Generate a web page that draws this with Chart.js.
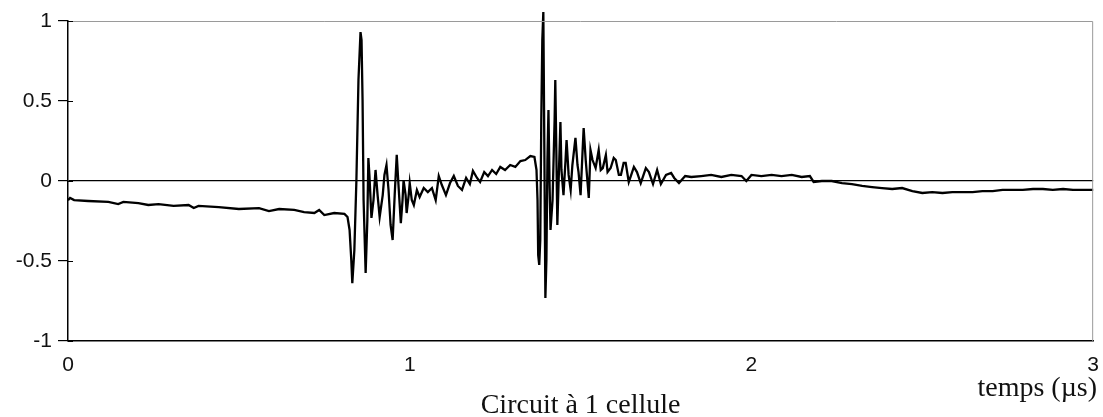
<!DOCTYPE html>
<html>
<head>
<meta charset="utf-8">
<script src="https://cdn.jsdelivr.net/npm/chart.js@4"></script>
<style>
  html, body { margin: 0; padding: 0; background: #fff; }
  #wrap { width: 1103px; height: 417px; position: relative; }
</style>
</head>
<body>
<div id="wrap"><canvas id="signalChart"></canvas></div>
<script>
// temps en µs
const temps = [
  0, 0.006, 0.018, 0.059, 0.118, 0.147, 0.162, 0.206, 0.235, 0.265,
  0.309, 0.353, 0.368, 0.382, 0.441, 0.5, 0.559, 0.588, 0.618, 0.662,
  0.691, 0.721, 0.735, 0.75, 0.779, 0.809, 0.818, 0.824, 0.829, 0.832,
  0.838, 0.844, 0.85, 0.856, 0.859, 0.862, 0.865, 0.871, 0.876, 0.879,
  0.882, 0.888, 0.894, 0.9, 0.906, 0.912, 0.921, 0.926, 0.932, 0.938,
  0.944, 0.95, 0.956, 0.962, 0.968, 0.974, 0.979, 0.982, 0.988, 0.991,
  0.997, 1.0, 1.006, 1.012, 1.021, 1.029, 1.041, 1.053, 1.065, 1.076,
  1.085, 1.094, 1.106, 1.118, 1.129, 1.141, 1.153, 1.165, 1.176, 1.185,
  1.197, 1.206, 1.218, 1.229, 1.241, 1.253, 1.265, 1.279, 1.294, 1.309,
  1.324, 1.338, 1.353, 1.365, 1.371, 1.374, 1.376, 1.379, 1.382, 1.385,
  1.388, 1.391, 1.394, 1.397, 1.4, 1.403, 1.406, 1.409, 1.412, 1.418,
  1.424, 1.426, 1.429, 1.432, 1.435, 1.441, 1.444, 1.45, 1.456, 1.459,
  1.465, 1.471, 1.476, 1.485, 1.491, 1.494, 1.5, 1.506, 1.509, 1.515,
  1.524, 1.529, 1.535, 1.544, 1.553, 1.559, 1.565, 1.574, 1.579, 1.588,
  1.597, 1.603, 1.612, 1.618, 1.626, 1.632, 1.641, 1.647, 1.656, 1.665,
  1.676, 1.691, 1.7, 1.712, 1.724, 1.735, 1.75, 1.765, 1.774, 1.788,
  1.806, 1.824, 1.853, 1.882, 1.912, 1.941, 1.971, 1.985, 2.0, 2.029,
  2.059, 2.088, 2.118, 2.147, 2.171, 2.182, 2.206, 2.235, 2.265, 2.294,
  2.324, 2.353, 2.382, 2.412, 2.441, 2.471, 2.5, 2.529, 2.559, 2.588,
  2.618, 2.647, 2.676, 2.706, 2.735, 2.765, 2.794, 2.824, 2.853, 2.882,
  2.912, 2.941, 2.971, 3.0
];

// tension mesurée
const tension = [
  -0.12, -0.106, -0.119, -0.125, -0.131, -0.144, -0.131, -0.138, -0.15, -0.144,
  -0.156, -0.15, -0.169, -0.156, -0.163, -0.175, -0.169, -0.188, -0.175, -0.181,
  -0.194, -0.2, -0.181, -0.213, -0.2, -0.206, -0.225, -0.306, -0.494, -0.638,
  -0.431, 0.006, 0.631, 0.931, 0.881, 0.506, -0.119, -0.575, -0.244, 0.144,
  0.038, -0.231, -0.119, 0.069, -0.088, -0.225, -0.088, 0.038, 0.1, -0.056,
  -0.275, -0.369, -0.088, 0.163, -0.056, -0.263, -0.119, 0.006, -0.088, -0.2,
  -0.088, -0.013, -0.119, -0.15, -0.056, -0.1, -0.044, -0.069, -0.044, -0.119,
  0.031, -0.025, -0.088, -0.013, 0.031, -0.031, -0.056, 0.019, -0.019, 0.063,
  0.019, -0.006, 0.056, 0.031, 0.069, 0.044, 0.088, 0.069, 0.1, 0.088,
  0.125, 0.131, 0.156, 0.15, 0.069, -0.119, -0.463, -0.525, -0.369, 0.381,
  0.881, 1.056, 0.194, -0.731, -0.494, 0.131, 0.444, 0.006, -0.306, -0.119,
  0.381, 0.631, 0.194, -0.275, -0.056, 0.369, 0.069, -0.088, 0.131, 0.256,
  0.038, -0.056, 0.1, 0.269, 0.1, 0.056, -0.088, 0.194, 0.331, 0.131,
  -0.106, 0.194, 0.131, 0.081, 0.194, 0.069, 0.081, 0.163, 0.056, 0.081,
  0.144, 0.131, 0.038, 0.038, 0.113, 0.113, -0.006, 0.031, 0.088, 0.056,
  -0.013, 0.081, 0.056, -0.019, 0.069, -0.019, 0.038, 0.05, 0.019, -0.013,
  0.031, 0.025, 0.031, 0.038, 0.025, 0.038, 0.031, 0, 0.038, 0.031,
  0.038, 0.031, 0.038, 0.025, 0.031, -0.006, 0, 0, -0.013, -0.019,
  -0.031, -0.038, -0.044, -0.05, -0.044, -0.063, -0.075, -0.069, -0.075, -0.069,
  -0.069, -0.069, -0.063, -0.063, -0.056, -0.056, -0.056, -0.05, -0.05, -0.056,
  -0.05, -0.056, -0.056, -0.056
];

const yTicks = [-1, -0.5, 0, 0.5, 1];
const xTicks = [0, 1, 2, 3];
const titre = 'Circuit à 1 cellule';
const axeX = 'temps (µs)';

const points = temps.map((t, i) => ({ x: t, y: tension[i] }));

// cadre gris en haut et à droite, petits traits vers l'intérieur, textes du bas
const decor = {
  id: 'decor',
  afterDraw(chart) {
    const c = chart.ctx;
    const a = chart.chartArea;
    const ys = chart.scales.y;
    c.save();
    c.strokeStyle = '#9a9a9a';
    c.lineWidth = 1;
    c.beginPath();
    c.moveTo(a.left, a.top + 0.5);
    c.lineTo(a.right - 0.5, a.top + 0.5);
    c.lineTo(a.right - 0.5, a.bottom);
    c.stroke();
    c.strokeStyle = '#000';
    c.lineWidth = 1.2;
    c.beginPath();
    yTicks.forEach(v => {
      const py = Math.round(ys.getPixelForValue(v)) + 0.5;
      c.moveTo(a.left, py);
      c.lineTo(a.left + 5, py);
    });
    c.stroke();
    c.fillStyle = '#111';
    c.font = '28px "Liberation Serif", "Times New Roman", serif';
    c.textAlign = 'center';
    c.textBaseline = 'alphabetic';
    c.fillText(titre, (a.left + a.right) / 2, 413);
    c.textAlign = 'right';
    c.fillText(axeX, 1097, 396);
    c.restore();
  }
};

const ctx = document.getElementById('signalChart').getContext('2d');
const chart = new Chart(ctx, {
  type: 'line',
  data: {
    datasets: [{
      data: points,
      borderColor: '#000',
      borderWidth: 2.3,
      pointRadius: 0,
      tension: 0,
      clip: false
    }]
  },
  options: {
    responsive: true,
    maintainAspectRatio: false,
    animation: false,
    layout: { padding: { top: 21, right: 8, left: 0, bottom: 0 } },
    plugins: { legend: { display: false }, tooltip: { enabled: false } },
    scales: {
      x: {
        type: 'linear',
        min: 0,
        max: 3,
        afterFit: s => { s.height = 76; },
        afterBuildTicks: s => { s.ticks = xTicks.map(v => ({ value: v })); },
        grid: { display: false },
        border: { color: '#000', width: 1.5 },
        ticks: {
          padding: 4,
          color: '#111',
          font: { family: '"Liberation Sans", Arial, sans-serif', size: 21 },
          callback: v => String(v)
        }
      },
      y: {
        min: -1,
        max: 1,
        afterFit: s => { s.width = 68; },
        afterBuildTicks: s => { s.ticks = yTicks.map(v => ({ value: v })); },
        grid: {
          color: c => (c.tick && c.tick.value === 0 ? '#000' : 'rgba(0,0,0,0)'),
          tickColor: '#000',
          tickLength: 10,
          lineWidth: 1.2
        },
        border: { color: '#000', width: 1.5 },
        ticks: {
          padding: 6,
          color: '#111',
          font: { family: '"Liberation Sans", Arial, sans-serif', size: 21 },
          callback: v => String(v)
        }
      }
    }
  },
  plugins: [decor]
});
</script>
</body>
</html>
